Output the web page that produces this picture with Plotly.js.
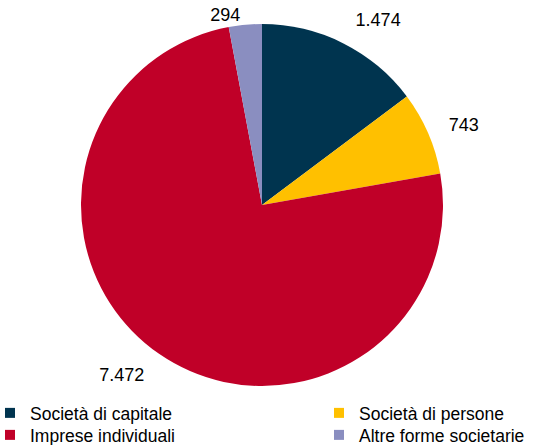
<!DOCTYPE html>
<html>
<head>
<meta charset="utf-8">
<script src="https://cdn.plot.ly/plotly-3.0.1.min.js"></script>
<style>html,body{margin:0;padding:0;background:#fff;}#chart{width:549px;height:445px;}</style>
</head>
<body>
<div id="chart"></div>
<script>
const categories = ["Società di capitale", "Società di persone", "Imprese individuali", "Altre forme societarie"];
const values = [1474, 743, 7472, 294];
const colors = ["#00344F", "#FFC000", "#C00028", "#8A8EC0"];

const W = 549, H = 445;
const FONT = "Liberation Sans, Arial, sans-serif";
const cx = 262, cy = 205, R = 181, labelPad = 17;

// label of the small top slice sits close to the pie; the others a bit farther out
const nearLabel = [false, false, false, true];

const pieMain = {
  type: "pie",
  labels: categories,
  values: values,
  sort: false,
  direction: "clockwise",
  rotation: 0,
  marker: {colors: colors, line: {width: 0}},
  textposition: nearLabel.map(n => n ? "outside" : "none"),
  texttemplate: "%{value:,.0f}",
  textfont: {family: FONT, size: 18, color: "#000"},
  domain: {x: [(cx - R) / W, (cx + R) / W], y: [1 - (cy + R) / H, 1 - (cy - R) / H]},
  showlegend: false,
  hoverinfo: "label+value"
};

const pieLabels = {
  type: "pie",
  labels: categories,
  values: values,
  sort: false,
  direction: "clockwise",
  rotation: 0,
  marker: {colors: categories.map(() => "rgba(0,0,0,0)"), line: {width: 0}},
  textposition: nearLabel.map(n => n ? "none" : "outside"),
  texttemplate: "%{value:,.0f}",
  textfont: {family: FONT, size: 18, color: "#000"},
  domain: {x: [(cx - R - labelPad) / W, (cx + R + labelPad) / W],
           y: [1 - (cy + R + labelPad) / H, 1 - (cy - R - labelPad) / H]},
  showlegend: false,
  hoverinfo: "skip"
};

// legend entries (2 columns x 2 rows, row-major like the reference)
const legendSlots = [
  {x: 0, y: 413}, {x: 329, y: 413},
  {x: 0, y: 435}, {x: 329, y: 435}
];
const legendNames = ["legend", "legend2", "legend3", "legend4"];

const legendTraces = categories.map((c, i) => ({
  type: "scatter",
  mode: "markers",
  x: [null], y: [null],
  name: c,
  marker: {symbol: "square", size: 10, color: colors[i]},
  legend: legendNames[i],
  showlegend: true,
  hoverinfo: "skip"
}));

const layout = {
  width: W, height: H,
  margin: {l: 0, r: 0, t: 0, b: 0, autoexpand: false},
  separators: ",.",
  paper_bgcolor: "#fff",
  plot_bgcolor: "rgba(0,0,0,0)",
  font: {family: FONT, color: "#000"},
  xaxis: {visible: false},
  yaxis: {visible: false},
  showlegend: true
};
legendNames.forEach((ln, i) => {
  layout[ln] = {
    x: legendSlots[i].x / W, xanchor: "left",
    y: 1 - legendSlots[i].y / H, yanchor: "middle",
    xref: "paper", yref: "paper",
    orientation: "v",
    bgcolor: "rgba(0,0,0,0)",
    font: {family: FONT, size: 17.5, color: "#000"},
    itemwidth: 30,
    indentation: -10
  };
});

Plotly.newPlot("chart", [pieMain, pieLabels, ...legendTraces], layout, {displayModeBar: false, staticPlot: true});
</script>
</body>
</html>
